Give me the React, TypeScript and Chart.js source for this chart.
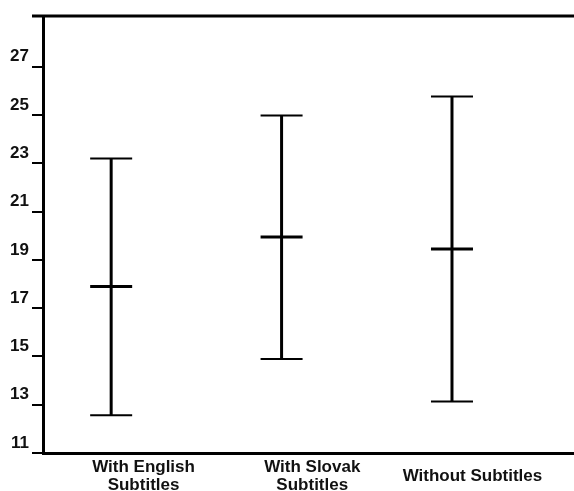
import React, { useEffect, useRef } from 'react';
import { Chart, registerables } from 'chart.js';

Chart.register(...registerables);

const categories: string[][] = [['With English', 'Subtitles'], ['With Slovak', 'Subtitles'], ['Without Subtitles']];
const xPositions = [1, 2, 3];
const labelPositions = [1.19, 2.18, 3.12];
const means = [17.9, 19.95, 19.45];
const upper = [23.2, 24.98, 25.77];
const lower = [12.56, 14.89, 13.13];
const yTicks = [11, 13, 15, 17, 19, 21, 23, 25, 27];

const FONT = '"Liberation Sans", Arial, sans-serif';

const errorBarPlugin = {
  id: 'errorBars',
  afterDatasetsDraw(chart: any) {
    const { ctx, scales } = chart;
    const xs = scales.x;
    const ys = scales.y;
    const half = 21;
    ctx.save();
    ctx.strokeStyle = '#000';
    ctx.lineCap = 'butt';
    for (let i = 0; i < xPositions.length; i++) {
      const px = xs.getPixelForValue(xPositions[i]);
      const pt = ys.getPixelForValue(upper[i]);
      const pm = ys.getPixelForValue(means[i]);
      const pb = ys.getPixelForValue(lower[i]);
      ctx.lineWidth = 3;
      ctx.beginPath();
      ctx.moveTo(px, pt);
      ctx.lineTo(px, pb);
      ctx.stroke();
      ctx.beginPath();
      ctx.moveTo(px - half, pm);
      ctx.lineTo(px + half, pm);
      ctx.stroke();
      ctx.lineWidth = 2;
      ctx.beginPath();
      ctx.moveTo(px - half, pt);
      ctx.lineTo(px + half, pt);
      ctx.moveTo(px - half, pb);
      ctx.lineTo(px + half, pb);
      ctx.stroke();
    }
    ctx.restore();
  },
  afterDraw(chart: any) {
    const { ctx, chartArea } = chart;
    ctx.save();
    ctx.strokeStyle = '#000';
    ctx.lineWidth = 3;
    ctx.beginPath();
    ctx.moveTo(chartArea.left - 11, chartArea.top);
    ctx.lineTo(chartArea.right, chartArea.top);
    ctx.stroke();
    ctx.restore();
  },
};

export default function App() {
  const ref = useRef<HTMLCanvasElement | null>(null);
  useEffect(() => {
    document.body.style.margin = '0';
    const canvas = ref.current;
    if (!canvas) return;
    const chart = new Chart(canvas, {
      type: 'scatter',
      data: {
        datasets: [
          {
            data: xPositions.map((x, i) => ({ x, y: means[i] })),
            pointRadius: 0,
            showLine: false,
          },
        ],
      },
      options: {
        animation: false,
        responsive: false,
        maintainAspectRatio: false,
        layout: { padding: { top: 16, right: 0, left: 0, bottom: 0 } },
        plugins: { legend: { display: false }, tooltip: { enabled: false } },
        scales: {
          x: {
            type: 'linear',
            min: 0.6,
            max: 3.716,
            grid: { display: false, drawTicks: false },
            border: { display: true, color: '#000', width: 3 },
            afterBuildTicks: (scale: any) => {
              scale.ticks = labelPositions.map((v) => ({ value: v }));
            },
            afterFit: (scale: any) => {
              scale.height = 38;
            },
            ticks: {
              padding: 14,
              crossAlign: 'center',
              maxRotation: 0,
              minRotation: 0,
              autoSkip: false,
              color: '#111',
              font: { family: FONT, size: 17, weight: 'bold', lineHeight: 1.05 },
              callback: (v: any) => {
                const i = labelPositions.indexOf(Number(v));
                return i >= 0 ? categories[i] : '';
              },
            },
          },
          y: {
            type: 'linear',
            min: 11,
            max: 29.1,
            grid: {
              display: true,
              drawOnChartArea: false,
              drawTicks: true,
              tickLength: 11,
              color: '#000',
              lineWidth: 2,
            },
            border: { display: true, color: '#000', width: 3 },
            afterBuildTicks: (scale: any) => {
              scale.ticks = yTicks.map((v) => ({ value: v }));
            },
            afterFit: (scale: any) => {
              scale.width = 43;
            },
            ticks: {
              padding: 3,
              labelOffset: -10,
              color: '#111',
              font: { family: FONT, size: 17, weight: 'bold' },
              callback: (v: any) => String(v),
            },
          },
        },
      },
      plugins: [errorBarPlugin],
    } as any);
    return () => chart.destroy();
  }, []);
  return (
    <div style={{ position: 'absolute', left: 0, top: 0, width: 574, height: 491, background: '#fff' }}>
      <canvas ref={ref} width={574} height={491} style={{ display: 'block', width: 574, height: 491 }} />
    </div>
  );
}
